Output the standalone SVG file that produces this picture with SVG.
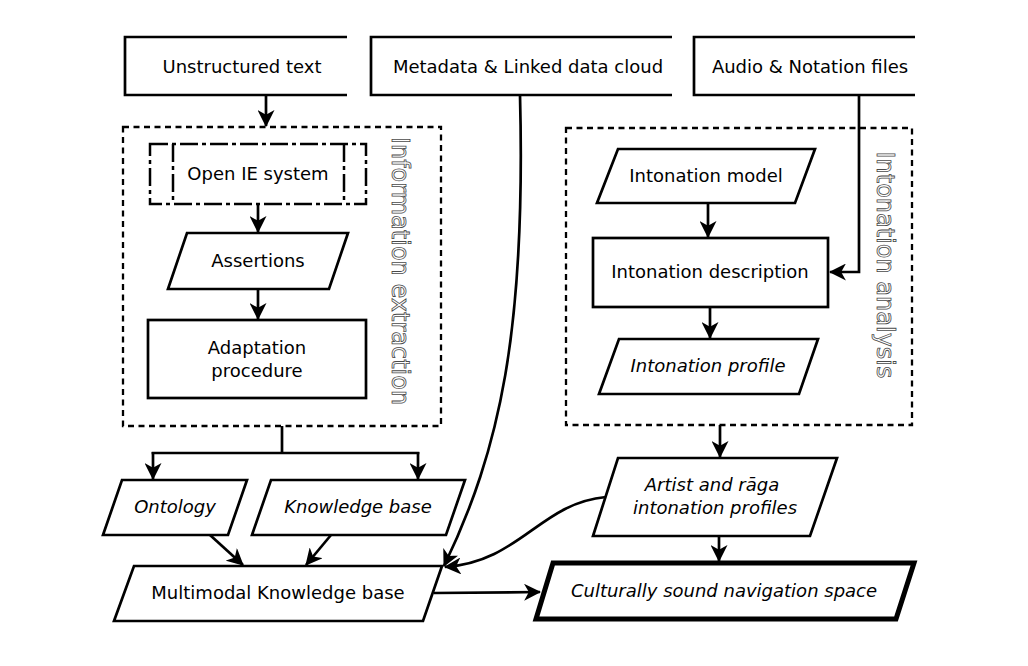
<svg xmlns="http://www.w3.org/2000/svg" width="1028" height="666" viewBox="0 0 1028 666">
<style>
.b{fill:#fff;stroke:#000;stroke-width:2.7;stroke-linejoin:miter}
.o{fill:none;stroke:#000;stroke-width:2.7}
.d{fill:none;stroke:#000;stroke-width:2.3;stroke-dasharray:6,4.5}
.t{font-family:"DejaVu Sans","Liberation Sans",sans-serif;font-size:18px;text-anchor:middle;fill:#000}
.i{font-style:italic}
.v{font-family:"DejaVu Sans","Liberation Sans",sans-serif;font-size:24px;text-anchor:middle;fill:none;stroke:#4a4a4a;stroke-width:0.8}
.c{fill:none;stroke:#000;stroke-width:2.7;marker-end:url(#a)}
</style>
<defs>
<marker id="a" viewBox="0 0 16 16" refX="15" refY="8" markerWidth="17" markerHeight="17" markerUnits="userSpaceOnUse" orient="auto">
<path d="M0,0 L16,8 L0,16 L4.5,8 z" fill="#000"/>
</marker>
</defs>
<rect width="1028" height="666" fill="#fff"/>

<g id="unstructured">
<path class="o" d="M347,37 H125 V95 H347"/>
<text class="t" x="242" y="73">Unstructured text</text>
</g>
<g id="metadata">
<path class="o" d="M672,37 H371 V95 H672"/>
<text class="t" x="528" y="73">Metadata &amp; Linked data cloud</text>
</g>
<g id="audio">
<path class="o" d="M915,37 H694 V95 H915"/>
<text class="t" x="810" y="73">Audio &amp; Notation files</text>
</g>

<g id="info-extraction">
<rect class="d" x="123" y="127" width="318" height="299"/>
<text class="v" transform="translate(392,271) rotate(90)">Information extraction</text>
</g>
<g id="open-ie">
<rect x="150" y="144" width="216" height="60" fill="#fff" stroke="#000" stroke-width="2.5" stroke-dasharray="18,4,4,4"/>
<line x1="173" y1="144" x2="173" y2="204" stroke="#000" stroke-width="2.5" stroke-dasharray="18,4,4,4"/>
<line x1="344" y1="144" x2="344" y2="204" stroke="#000" stroke-width="2.5" stroke-dasharray="18,4,4,4"/>
<text class="t" x="258" y="180">Open IE system</text>
</g>
<g id="assertions">
<path class="b" d="M187,233 H348 L329,289 H168 Z"/>
<text class="t" x="258" y="267">Assertions</text>
</g>
<g id="adaptation">
<rect class="b" x="148" y="320" width="218" height="78"/>
<text class="t" x="257" y="354">Adaptation</text>
<text class="t" x="257" y="377">procedure</text>
</g>

<g id="ontology">
<path class="b" d="M122,480 H247 L228,535 H103 Z"/>
<text class="t i" x="175" y="513">Ontology</text>
</g>
<g id="knowledge-base">
<path class="b" d="M271,480 H465 L446,535 H252 Z"/>
<text class="t i" x="358" y="513">Knowledge base</text>
</g>
<g id="multimodal">
<path class="b" d="M134,566 H442 L423,621 H114 Z"/>
<text class="t" x="278" y="599">Multimodal Knowledge base</text>
</g>

<g id="intonation-analysis">
<rect class="d" x="566" y="128" width="346" height="297"/>
<text class="v" transform="translate(877,265) rotate(90)">Intonation analysis</text>
</g>
<g id="intonation-model">
<path class="b" d="M618,149 H815 L795,203 H597 Z"/>
<text class="t" x="706" y="182">Intonation model</text>
</g>
<g id="intonation-description">
<rect class="b" x="593" y="238" width="235" height="69"/>
<text class="t" x="710" y="278">Intonation description</text>
</g>
<g id="intonation-profile">
<path class="b" d="M619,339 H818 L799,394 H599 Z"/>
<text class="t i" x="708" y="372">Intonation profile</text>
</g>
<g id="artist-raga">
<path class="b" d="M618,458 H837 L810,536 H593 Z"/>
<text class="t i" x="712" y="491">Artist and rāga</text>
<text class="t i" x="715" y="514">intonation profiles</text>
</g>
<g id="navigation-space">
<path d="M553,563 H914 L896,619 H536 Z" fill="#fff" stroke="#000" stroke-width="5"/>
<text class="t i" x="724" y="597">Culturally sound navigation space</text>
</g>

<g id="connectors">
<line class="c" x1="266" y1="95" x2="266" y2="126"/>
<line class="c" x1="258" y1="204" x2="258" y2="232"/>
<line class="c" x1="258" y1="289" x2="258" y2="319"/>
<polyline class="o" points="282,426 282,453"/>
<polyline class="o" points="153,453 418,453" stroke-linecap="square"/>
<line class="c" x1="153" y1="452" x2="153" y2="479"/>
<line class="c" x1="418" y1="452" x2="418" y2="479"/>
<line class="c" x1="210" y1="535" x2="243" y2="565"/>
<line class="c" x1="331" y1="535" x2="306" y2="565"/>
<path class="c" d="M520,95 C526,330 500,450 444,566"/>
<path class="c" d="M606,497 C540,503 520,562 445,567"/>
<line class="c" x1="434" y1="593" x2="540" y2="592"/>
<polyline class="c" points="859,95 859,272 830,272"/>
<line class="c" x1="708" y1="203" x2="708" y2="237"/>
<line class="c" x1="710" y1="307" x2="710" y2="338"/>
<line class="c" x1="720" y1="425" x2="720" y2="457"/>
<line class="c" x1="719" y1="536" x2="719" y2="561"/>
</g>
</svg>
